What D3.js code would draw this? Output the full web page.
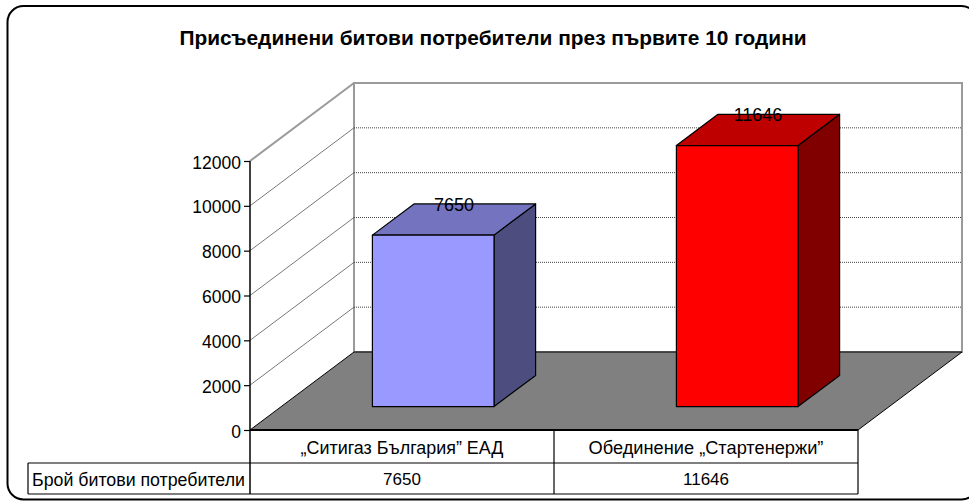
<!DOCTYPE html>
<html><head><meta charset="utf-8">
<script src="https://cdn.jsdelivr.net/npm/d3@7"></script>
<style>html,body{margin:0;padding:0;background:#fff;}svg{display:block;}</style>
</head><body>
<svg id="c" width="969" height="504"></svg>
<script>
const title = "Присъединени битови потребители през първите 10 години";
const categories = ["„Ситигаз България” ЕАД", "Обединение „Стартенержи”"];
const values = [7650, 11646];
const rowLabel = "Брой битови потребители";
const yTicks = [0, 2000, 4000, 6000, 8000, 10000, 12000];
const frontColors = ["#9999FF", "#FF0000"];
const topColors = ["#7373BF", "#BF0000"];
const sideColors = ["#4D4D80", "#800000"];

const FONT = "'Liberation Sans', Arial, sans-serif";
const svg = d3.select("#c");
function fit(sel, w) { const l = sel.node().getComputedTextLength(); const fs = +sel.attr("font-size"); sel.attr("font-size", fs * w / l); }

// outer border
svg.append("rect").attr("x", 7.5).attr("y", 6).attr("width", 970).attr("height", 493.5)
  .attr("rx", 16).attr("fill", "#fff").attr("stroke", "#000").attr("stroke-width", 2);

// geometry
const x0 = 250, x1 = 858;
const y = d3.scaleLinear().domain([0, 12000]).range([430, 161]);
const depth = { dx: d3.scaleLinear().domain([0, 1]).range([0, 104]),
                dy: d3.scaleLinear().domain([0, 1]).range([0, -78]) };
const P = (x, v, d) => [x + depth.dx(d), y(v) + depth.dy(d)];
const xBand = d3.scaleBand().domain(categories).range([x0, x1]).paddingInner(0.6).paddingOuter(0.3);
const xCol = d3.scaleBand().domain(categories).range([x0, x1]);
const line = d3.line();
const yMax = yTicks[yTicks.length - 1];

// left wall
svg.append("path").attr("d", line([P(x0, 0, 0), P(x0, yMax, 0), P(x0, yMax, 1), P(x0, 0, 1)]) + "Z")
  .attr("fill", "#fff").attr("stroke", "none");
// back wall
svg.append("path").attr("d", line([P(x0, 0, 1), P(x0, yMax, 1), P(x1, yMax, 1), P(x1, 0, 1)]) + "Z")
  .attr("fill", "#fff").attr("stroke", "#9a9a9a").attr("stroke-width", 2);
// gridlines
yTicks.filter(t => t > 0 && t < yMax).forEach(t => {
  svg.append("path").attr("d", line([P(x0, t, 0), P(x0, t, 1)]))
    .attr("stroke", "#555").attr("stroke-width", 0.8).attr("fill", "none");
  svg.append("path").attr("d", line([P(x0, t, 1), P(x1, t, 1)]))
    .attr("stroke", "#444").attr("stroke-width", 1).attr("stroke-dasharray", "1,1").attr("fill", "none");
});
// left wall top edge
svg.append("path").attr("d", line([P(x0, yMax, 0), P(x0, yMax, 1)]))
  .attr("stroke", "#9a9a9a").attr("stroke-width", 2).attr("fill", "none");

// floor
svg.append("path").attr("d", line([P(x0, 0, 0), P(x1, 0, 0), P(x1, 0, 1), P(x0, 0, 1)]) + "Z")
  .attr("fill", "#808080").attr("stroke", "#000").attr("stroke-width", 1);

// bars
const d0 = 0.3, d1 = 0.7;
categories.forEach((c, i) => {
  const bx = xBand(c), bw = xBand.bandwidth(), v = values[i];
  const g = svg.append("g").attr("stroke", "#000").attr("stroke-width", 1.2).attr("stroke-linejoin", "round");
  g.append("path").attr("d", line([P(bx + bw, 0, d0), P(bx + bw, v, d0), P(bx + bw, v, d1), P(bx + bw, 0, d1)]) + "Z")
    .attr("fill", sideColors[i]);
  g.append("path").attr("d", line([P(bx, v, d0), P(bx + bw, v, d0), P(bx + bw, v, d1), P(bx, v, d1)]) + "Z")
    .attr("fill", topColors[i]);
  g.append("path").attr("d", line([P(bx, 0, d0), P(bx + bw, 0, d0), P(bx + bw, v, d0), P(bx, v, d0)]) + "Z")
    .attr("fill", frontColors[i]);
  const lp = P(bx + bw / 2, v, d1);
  svg.append("text").attr("x", lp[0] - depth.dx(0.2)).attr("y", lp[1] + 1)
    .attr("text-anchor", "middle").attr("dominant-baseline", "central")
    .attr("font-family", FONT).attr("font-size", 18).attr("fill", "#000").text(v);
});

// floor front edge
svg.append("line").attr("x1", x0).attr("x2", x1).attr("y1", y(0)).attr("y2", y(0))
  .attr("stroke", "#000").attr("stroke-width", 2);

// axis
const axis = d3.axisLeft(y).tickValues(yTicks).tickSize(6).tickPadding(3).tickFormat(d3.format("d"));
const ag = svg.append("g").attr("transform", `translate(${x0},0)`).call(axis);
ag.select(".domain").remove();
ag.selectAll(".tick line").attr("stroke", "#000").attr("stroke-width", 1.2);
ag.selectAll(".tick text").attr("font-family", FONT).attr("font-size", 17.5).attr("fill", "#000").attr("dy", "0.4em");
svg.append("line").attr("x1", x0).attr("x2", x0).attr("y1", y(yMax)).attr("y2", 494)
  .attr("stroke", "#000").attr("stroke-width", 1.5);

// table
const tTop = 430, tMid = 463, tBot = 494, tLeft = 28;
svg.append("line").attr("x1", x1).attr("x2", x1).attr("y1", tTop).attr("y2", tBot).attr("stroke", "#000").attr("stroke-width", 1.2);
svg.append("line").attr("x1", tLeft).attr("x2", x1).attr("y1", tMid).attr("y2", tMid).attr("stroke", "#000").attr("stroke-width", 1.2);
svg.append("line").attr("x1", tLeft).attr("x2", x1).attr("y1", tBot).attr("y2", tBot).attr("stroke", "#000").attr("stroke-width", 1.2);
svg.append("line").attr("x1", tLeft).attr("x2", tLeft).attr("y1", tMid).attr("y2", tBot).attr("stroke", "#000").attr("stroke-width", 1.2);
const catWidths = [203, 235];
categories.forEach((c, i) => {
  const cx = xCol(c) + xCol.bandwidth();
  if (i < categories.length - 1)
    svg.append("line").attr("x1", cx).attr("x2", cx).attr("y1", tTop).attr("y2", tBot).attr("stroke", "#000").attr("stroke-width", 1.2);
  const ct = svg.append("text").attr("x", xCol(c) + xCol.bandwidth() / 2).attr("y", (tTop + tMid) / 2 + 1)
    .attr("text-anchor", "middle").attr("dominant-baseline", "central")
    .attr("font-family", FONT).attr("font-size", 16).attr("fill", "#000").text(c);
  fit(ct, catWidths[i]);
  svg.append("text").attr("x", xCol(c) + xCol.bandwidth() / 2).attr("y", (tMid + tBot) / 2 + 1)
    .attr("text-anchor", "middle").attr("dominant-baseline", "central")
    .attr("font-family", FONT).attr("font-size", 17).attr("fill", "#000").text(values[i]);
});
const rl = svg.append("text").attr("x", 32).attr("y", (tMid + tBot) / 2 + 1)
  .attr("dominant-baseline", "central").attr("font-family", FONT).attr("font-size", 16).attr("fill", "#000").text(rowLabel);
fit(rl, 213);

// title
const tt = svg.append("text").attr("x", 493).attr("y", 45).attr("text-anchor", "middle")
  .attr("font-family", FONT).attr("font-weight", "bold").attr("font-size", 17).attr("fill", "#000").text(title);
fit(tt, 628);
</script>
</body></html>
